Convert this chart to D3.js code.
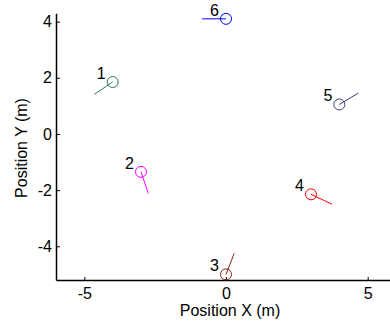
<!DOCTYPE html>
<html>
<head>
<meta charset="utf-8">
<script src="https://cdn.jsdelivr.net/npm/d3@7"></script>
<style>
  body { margin: 0; background: #fff; }
  svg { display: block; font-family: 'Liberation Sans', Arial, sans-serif; }
</style>
</head>
<body>
<div id="chart"></div>
<script>
// robot markers: position and heading offset (data units)
const robotIds = ['1', '2', '3', '4', '5', '6'];
const posX = [-4, -3, 0, 3, 4, 0];
const posY = [1.85, -1.35, -5, -2.15, 1.05, 4.1];
const headDx = [-0.65, 0.26, 0.29, 0.74, 0.66, -0.84];
const headDy = [-0.44, -0.77, 0.75, -0.35, 0.40, 0];
const robotColors = ['#2b7a5c', '#ff00ff', '#8b1c1c', '#ff0000', '#3a3a7c', '#0000ff'];

const xTicks = [-5, 0, 5];
const yTicks = [-4, -2, 0, 2, 4];

const width = 390;
const height = 322;

const svg = d3.select('#chart')
  .append('svg')
  .attr('width', width)
  .attr('height', height);

const xScale = d3.scaleLinear().domain([-6, 6]).range([56, 396]);
const yScale = d3.scaleLinear().domain([-5.2, 4.3]).range([280, 13.2]);

const data = robotIds.map((id, i) => ({
  id: id,
  x: posX[i],
  y: posY[i],
  dx: headDx[i],
  dy: headDy[i],
  color: robotColors[i]
}));

// axes
const xAxis = svg.append('g')
  .attr('transform', 'translate(0,280)')
  .call(d3.axisBottom(xScale).tickValues(xTicks).tickSizeInner(-3).tickSizeOuter(0).tickPadding(8)
    .tickFormat(d3.format('d')));

const yAxis = svg.append('g')
  .attr('transform', 'translate(56,0)')
  .call(d3.axisLeft(yScale).tickValues(yTicks).tickSizeInner(-4).tickSizeOuter(0).tickPadding(4)
    .tickFormat(d3.format('d')));

[xAxis, yAxis].forEach((ax) => {
  ax.attr('font-family', null).attr('font-size', null);
  ax.select('.domain').attr('stroke', '#000').attr('stroke-width', 1.5);
  ax.selectAll('.tick line').attr('stroke', '#000');
  ax.selectAll('.tick text').attr('fill', '#000').style('font-size', '16px')
    .text((d) => d < 0 ? '-' + Math.abs(d) : d);
});

// headings
const g = svg.append('g');

g.selectAll('line.heading')
  .data(data)
  .enter()
  .append('line')
  .attr('class', 'heading')
  .attr('x1', (d) => xScale(d.x))
  .attr('y1', (d) => yScale(d.y))
  .attr('x2', (d) => xScale(d.x + d.dx))
  .attr('y2', (d) => yScale(d.y + d.dy))
  .attr('stroke', (d) => d.color)
  .attr('stroke-width', 1);

g.selectAll('circle')
  .data(data)
  .enter()
  .append('circle')
  .attr('cx', (d) => xScale(d.x))
  .attr('cy', (d) => yScale(d.y))
  .attr('r', 5.5)
  .attr('fill', 'none')
  .attr('stroke', (d) => d.color)
  .attr('stroke-width', 1);

g.selectAll('text.label')
  .data(data)
  .enter()
  .append('text')
  .attr('class', 'label')
  .attr('x', (d) => xScale(d.x) - 7)
  .attr('y', (d) => yScale(d.y) - 3)
  .attr('text-anchor', 'end')
  .style('font-size', '16px')
  .text((d) => d.id);

// axis titles
svg.append('text')
  .attr('x', 230)
  .attr('y', 316)
  .attr('text-anchor', 'middle')
  .style('font-size', '16px')
  .text('Position X (m)');

svg.append('text')
  .attr('transform', 'translate(27,148) rotate(-90)')
  .attr('text-anchor', 'middle')
  .style('font-size', '16px')
  .text('Position Y (m)');
</script>
</body>
</html>
